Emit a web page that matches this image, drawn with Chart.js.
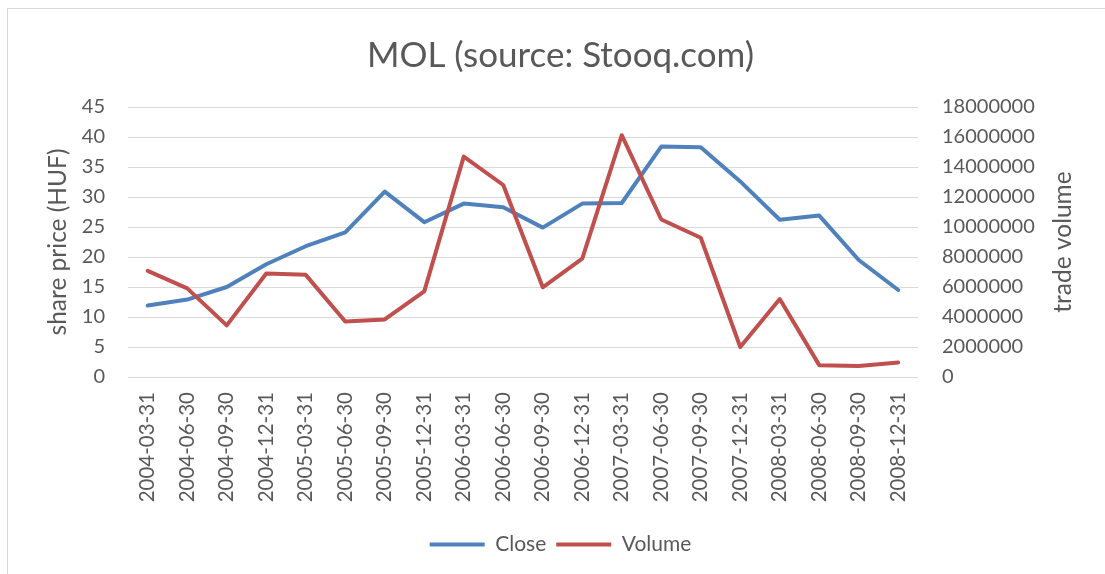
<html>
  <head>
    <title>MOL (source: Stooq.com)</title>
    <style>
      body {
        margin: 0;
        background-color: white;
        overflow: hidden;
      }
      #frame {
        position: absolute;
        left: 7px;
        top: 8px;
        width: 1300px;
        height: 800px;
        border: 1px solid #d9d9d9;
      }
      #myChart {
        position: absolute;
        left: 0;
        top: 0;
      }
    </style>
  </head>
  <body>
    <div id="frame"></div>
    <canvas id="myChart" width="1105" height="574"></canvas>
    <script src="https://cdn.jsdelivr.net/npm/chart.js@4/dist/chart.umd.min.js"></script>
    <script>
      const dates = ['2004-03-31', '2004-06-30', '2004-09-30', '2004-12-31',
        '2005-03-31', '2005-06-30', '2005-09-30', '2005-12-31',
        '2006-03-31', '2006-06-30', '2006-09-30', '2006-12-31',
        '2007-03-31', '2007-06-30', '2007-09-30', '2007-12-31',
        '2008-03-31', '2008-06-30', '2008-09-30', '2008-12-31'];
      const closePrices = [11.9, 12.9, 15.0, 18.8, 21.8, 24.1, 30.9, 25.8, 28.9, 28.3,
        24.9, 28.9, 29.0, 38.4, 38.3, 32.6, 26.2, 26.9, 19.5, 14.5];
      const volumes = [7080000, 5910000, 3440000, 6900000, 6810000, 3700000, 3840000, 5710000,
        14690000, 12800000, 5980000, 7890000, 16120000, 10500000, 9280000, 2000000,
        5200000, 790000, 730000, 970000];

      const textColor = '#595959';
      const gridColor = '#d9d9d9';
      const fontFamily = 'Lato, "Open Sans", sans-serif';

      // right axis title reads bottom-to-top in the original, chart.js would flip it
      const rightTitle = {
        id: 'rightTitle',
        afterDraw(chart) {
          const ctx = chart.ctx;
          const area = chart.chartArea;
          const s = chart.scales.y1;
          ctx.save();
          ctx.translate(s.right - 42, (area.top + area.bottom) / 2);
          ctx.rotate(-Math.PI / 2);
          ctx.font = '24.5px ' + fontFamily;
          ctx.fillStyle = textColor;
          ctx.textAlign = 'center';
          ctx.textBaseline = 'middle';
          ctx.fillText('trade volume', 0, 0);
          ctx.restore();
        }
      };

      new Chart(document.getElementById('myChart'), {
        type: 'line',
        data: {
          labels: dates,
          datasets: [
            {
              label: 'Close',
              data: closePrices,
              borderColor: '#4F81BD',
              backgroundColor: '#4F81BD',
              borderWidth: 4,
              borderCapStyle: 'round',
              borderJoinStyle: 'round',
              pointRadius: 0,
              yAxisID: 'y',
              order: 1
            },
            {
              label: 'Volume',
              data: volumes,
              borderColor: '#C0504D',
              backgroundColor: '#C0504D',
              borderWidth: 4,
              borderCapStyle: 'round',
              borderJoinStyle: 'round',
              pointRadius: 0,
              yAxisID: 'y1',
              order: 0
            }
          ]
        },
        options: {
          responsive: false,
          animation: false,
          layout: {
            padding: { left: 16, right: 0, top: 0, bottom: 9 }
          },
          scales: {
            x: {
              offset: true,
              grid: { display: false, drawTicks: false },
              border: { display: false },
              ticks: {
                color: textColor,
                font: { family: fontFamily, size: 20.5 },
                maxRotation: 90,
                minRotation: 90,
                autoSkip: false,
                padding: 15
              },
              afterFit(scale) { scale.height = 147; }
            },
            y: {
              position: 'left',
              min: 0,
              max: 45,
              grid: { color: gridColor, lineWidth: 1, drawTicks: false },
              border: { display: false },
              ticks: {
                stepSize: 5,
                color: textColor,
                font: { family: fontFamily, size: 20 },
                padding: 23
              },
              title: {
                display: true,
                text: 'share price (HUF)',
                color: textColor,
                font: { family: fontFamily, size: 24.5 },
                padding: { top: 27, bottom: 0 }
              },
              afterFit(scale) { scale.width = 112; }
            },
            y1: {
              position: 'right',
              min: 0,
              max: 18000000,
              grid: { display: false, drawTicks: false },
              border: { display: false },
              ticks: {
                stepSize: 2000000,
                color: textColor,
                font: { family: fontFamily, size: 20 },
                padding: 24,
                callback: v => String(v)
              },
              afterFit(scale) { scale.width = 187; }
            }
          },
          plugins: {
            title: {
              display: true,
              text: 'MOL (source: Stooq.com)',
              color: textColor,
              font: { family: fontFamily, size: 35, weight: 'normal' },
              padding: { top: 35, bottom: 30 }
            },
            legend: {
              position: 'bottom',
              labels: {
                color: textColor,
                font: { family: fontFamily, size: 21 },
                usePointStyle: true,
                pointStyle: 'line',
                pointStyleWidth: 55,
                padding: 10,
                sort: (a, b) => a.datasetIndex - b.datasetIndex
              }
            },
            tooltip: { enabled: false }
          }
        },
        plugins: [rightTitle]
      });
    </script>
  </body>
</html>
